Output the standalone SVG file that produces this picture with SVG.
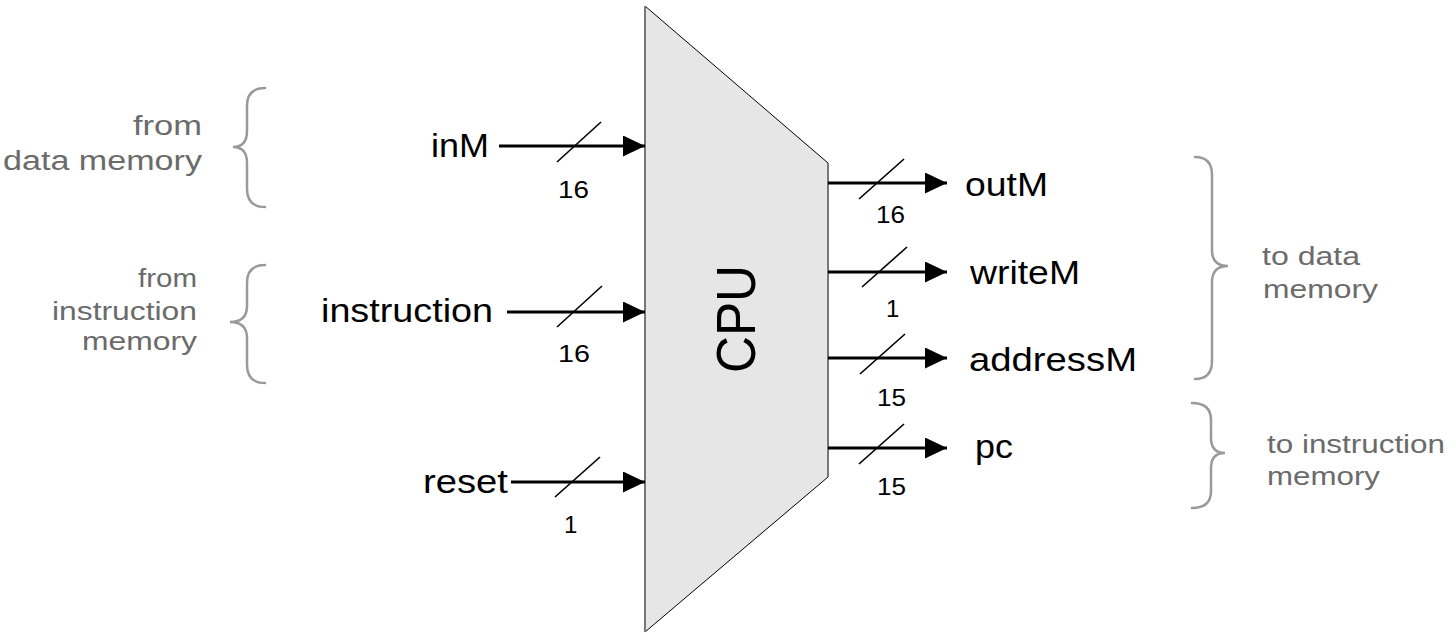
<svg xmlns="http://www.w3.org/2000/svg" width="1455" height="633" viewBox="0 0 1455 633">
<style>
.lbl{font-family:"Liberation Sans",Arial,sans-serif;font-size:34px;fill:#000}
.num{font-family:"Liberation Sans",Arial,sans-serif;font-size:24px;fill:#000}
.gray{font-family:"Liberation Sans",Arial,sans-serif;font-size:27px;fill:#6b6b6b}
.gray2{font-family:"Liberation Sans",Arial,sans-serif;font-size:26px;fill:#6b6b6b}
.wire{stroke:#000;stroke-width:3;fill:none}
.slash{stroke:#000;stroke-width:1.6;fill:none}
.brace{stroke:#9a9a9a;stroke-width:2.5;fill:none;stroke-linecap:round}
</style>
<defs>
<marker id="ah" viewBox="0 0 22 21" refX="22" refY="10.5" markerWidth="22" markerHeight="21" markerUnits="userSpaceOnUse" orient="auto">
<path d="M0 0 L22 10.5 L0 21 Z" fill="#000"/>
</marker>
</defs>
<rect width="1455" height="633" fill="#fff"/>
<g id="cpu">
<polygon points="645,6 828,163 828,477 645,632" fill="#e6e6e6" stroke="none"/>
<line x1="645" y1="6" x2="828" y2="163" stroke="#000" stroke-width="1"/>
<line x1="645" y1="632" x2="828" y2="477" stroke="#000" stroke-width="1"/>
<line x1="645" y1="6" x2="645" y2="632" stroke="#777" stroke-width="2"/>
<line x1="828" y1="163" x2="828" y2="477" stroke="#777" stroke-width="2"/>
<text transform="translate(755,319) rotate(-90)" x="0" y="0" text-anchor="middle" font-family="'Liberation Sans',Arial,sans-serif" font-size="55" textLength="108" lengthAdjust="spacingAndGlyphs">CPU</text>
</g>
<g id="connectors">
<line class="wire" x1="499" y1="146" x2="645" y2="146" marker-end="url(#ah)"/>
<line class="slash" x1="557" y1="162" x2="601" y2="122"/>
<line class="wire" x1="507" y1="312" x2="645" y2="312" marker-end="url(#ah)"/>
<line class="slash" x1="557" y1="327" x2="602" y2="286"/>
<line class="wire" x1="511" y1="482" x2="645" y2="482" marker-end="url(#ah)"/>
<line class="slash" x1="555" y1="497" x2="600" y2="457"/>
<line class="wire" x1="828" y1="183" x2="947" y2="183" marker-end="url(#ah)"/>
<line class="slash" x1="859" y1="199" x2="904" y2="159"/>
<line class="wire" x1="828" y1="272" x2="947" y2="272" marker-end="url(#ah)"/>
<line class="slash" x1="862" y1="287" x2="907" y2="247"/>
<line class="wire" x1="828" y1="358" x2="947" y2="358" marker-end="url(#ah)"/>
<line class="slash" x1="860" y1="374" x2="905" y2="334"/>
<line class="wire" x1="828" y1="448" x2="947" y2="448" marker-end="url(#ah)"/>
<line class="slash" x1="859" y1="464" x2="904" y2="424"/>
</g>
<g id="inM"><text class="lbl" x="431" y="157" textLength="58" lengthAdjust="spacingAndGlyphs">inM</text><text class="num" x="558" y="198" textLength="31" lengthAdjust="spacingAndGlyphs">16</text></g>
<g id="instruction"><text class="lbl" x="321" y="322" textLength="172" lengthAdjust="spacingAndGlyphs">instruction</text><text class="num" x="558" y="362" textLength="32" lengthAdjust="spacingAndGlyphs">16</text></g>
<g id="reset"><text class="lbl" x="423" y="493" textLength="85" lengthAdjust="spacingAndGlyphs">reset</text><text class="num" x="564" y="533">1</text></g>
<g id="outM"><text class="lbl" x="965" y="196" textLength="83" lengthAdjust="spacingAndGlyphs">outM</text><text class="num" x="876" y="223" textLength="29" lengthAdjust="spacingAndGlyphs">16</text></g>
<g id="writeM"><text class="lbl" x="970" y="284" textLength="110" lengthAdjust="spacingAndGlyphs">writeM</text><text class="num" x="886" y="317">1</text></g>
<g id="addressM"><text class="lbl" x="969" y="371" textLength="168" lengthAdjust="spacingAndGlyphs">addressM</text><text class="num" x="877" y="406" textLength="29" lengthAdjust="spacingAndGlyphs">15</text></g>
<g id="pc"><text class="lbl" x="975" y="458" textLength="38" lengthAdjust="spacingAndGlyphs">pc</text><text class="num" x="877" y="495" textLength="29" lengthAdjust="spacingAndGlyphs">15</text></g>
<g id="from-data-memory">
<path class="brace" d="M265 88 Q247 88 247 106 L247 131 Q247 147 233 147 Q247 147 247 163 L247 189 Q247 207 265 207"/>
<text class="gray" x="133" y="135" textLength="69" lengthAdjust="spacingAndGlyphs">from</text>
<text class="gray" x="3" y="170" textLength="199" lengthAdjust="spacingAndGlyphs">data memory</text>
</g>
<g id="from-instruction-memory">
<path class="brace" d="M265 265 Q247 265 247 283 L247 306 Q247 322 230 322 Q247 322 247 338 L247 365 Q247 383 265 383"/>
<text class="gray2" x="138" y="287" textLength="59" lengthAdjust="spacingAndGlyphs">from</text>
<text class="gray2" x="52" y="320" textLength="145" lengthAdjust="spacingAndGlyphs">instruction</text>
<text class="gray2" x="82" y="350" textLength="115" lengthAdjust="spacingAndGlyphs">memory</text>
</g>
<g id="to-data-memory">
<path class="brace" d="M1195 157 Q1212 157 1212 175 L1212 250 Q1212 266 1228 266 Q1212 266 1212 282 L1212 361 Q1212 379 1195 379"/>
<text class="gray2" x="1262" y="265" textLength="98" lengthAdjust="spacingAndGlyphs">to data</text>
<text class="gray2" x="1263" y="298" textLength="115" lengthAdjust="spacingAndGlyphs">memory</text>
</g>
<g id="to-instruction-memory">
<path class="brace" d="M1192 403 Q1211 403 1211 420 L1211 438 Q1211 453 1225 453 Q1211 453 1211 468 L1211 491 Q1211 508 1192 508"/>
<text class="gray2" x="1267" y="453" textLength="178" lengthAdjust="spacingAndGlyphs">to instruction</text>
<text class="gray2" x="1267" y="485" textLength="113" lengthAdjust="spacingAndGlyphs">memory</text>
</g>
</svg>
